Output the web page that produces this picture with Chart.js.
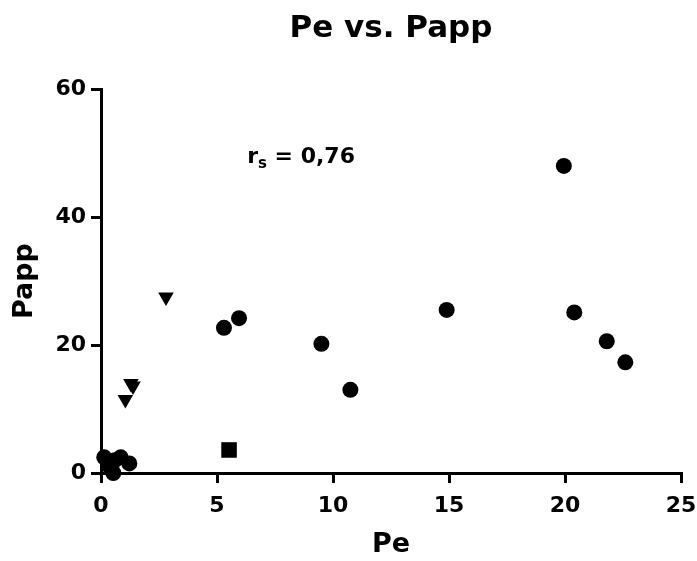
<!DOCTYPE html>
<html>
<head>
<meta charset="utf-8">
<script src="https://cdn.jsdelivr.net/npm/chart.js@4.4.0/dist/chart.umd.min.js"></script>
<style>
    html, body { margin: 0; padding: 0; background: #fff; }
    #wrap { width: 697px; height: 561px; }
</style>
</head>
<body>
<div id="wrap"><canvas id="peChart"></canvas></div>
<script>
// Valores (Pe, Papp)
const circlePe   = [0.14, 0.3, 0.6, 0.53, 0.85, 1.22, 5.3, 5.95, 9.5, 10.75, 14.9, 19.95, 20.4, 21.8, 22.6];
const circlePapp = [2.45, 1.25, 2.0, 0.0, 2.45, 1.5, 22.7, 24.2, 20.2, 13.0, 25.5, 48.0, 25.1, 20.6, 17.3];

const trianglePe   = [2.8, 1.29, 1.38, 1.05];
const trianglePapp = [27.5, 14.0, 13.6, 11.5];

const squarePe   = [5.52];
const squarePapp = [3.6];

const xTicks = [0, 5, 10, 15, 20, 25];
const yTicks = [0, 20, 40, 60];

const annotationText = { main: 'r', sub: 's', rest: ' = 0,76', x: 6.3, y: 48.4 };

function toPoints(xs, ys) {
    return xs.map((x, i) => ({ x: x, y: ys[i] }));
}

const FONT = "'DejaVu Sans', sans-serif";

// Texto de la correlación dibujado sobre el área del gráfico
const rsLabel = {
    id: 'rsLabel',
    afterDraw(chart) {
        const ctx = chart.ctx;
        const px = chart.scales.x.getPixelForValue(annotationText.x);
        const py = chart.scales.y.getPixelForValue(annotationText.y);
        ctx.save();
        ctx.fillStyle = '#000';
        ctx.textAlign = 'left';
        ctx.textBaseline = 'alphabetic';
        ctx.font = 'bold 22px ' + FONT;
        ctx.fillText(annotationText.main, px, py);
        let w = ctx.measureText(annotationText.main).width;
        ctx.font = 'bold 15px ' + FONT;
        ctx.fillText(annotationText.sub, px + w, py + 5);
        w += ctx.measureText(annotationText.sub).width;
        ctx.font = 'bold 22px ' + FONT;
        ctx.fillText(annotationText.rest, px + w, py);
        ctx.restore();
    }
};

const axisStyle = {
    grid: {
        display: true,
        drawOnChartArea: false,
        drawTicks: true,
        tickLength: 10,
        color: '#000',
        lineWidth: 3
    },
    border: { display: true, color: '#000', width: 3 }
};

const config = {
    type: 'scatter',
    data: {
        datasets: [{
            data: toPoints(circlePe, circlePapp),
            pointStyle: 'circle',
            pointRadius: 8,
            pointHoverRadius: 8,
            backgroundColor: '#000',
            borderColor: '#000',
            borderWidth: 0,
            clip: false
        }, {
            data: toPoints(trianglePe, trianglePapp),
            pointStyle: 'triangle',
            rotation: 180,
            pointRadius: 9,
            pointHoverRadius: 9,
            backgroundColor: '#000',
            borderColor: '#000',
            borderWidth: 0,
            clip: false
        }, {
            data: toPoints(squarePe, squarePapp),
            pointStyle: 'rect',
            pointRadius: 11,
            pointHoverRadius: 11,
            backgroundColor: '#000',
            borderColor: '#000',
            borderWidth: 0,
            clip: false
        }]
    },
    options: {
        responsive: true,
        maintainAspectRatio: false,
        animation: false,
        layout: { padding: { left: 0, right: 16, top: 0, bottom: 0 } },
        plugins: {
            legend: { display: false },
            tooltip: { enabled: false },
            title: {
                display: true,
                text: 'Pe vs. Papp',
                color: '#000',
                fullSize: false,
                font: { family: FONT, size: 31, weight: 'bold' },
                padding: { top: 10, bottom: 42 }
            }
        },
        scales: {
            x: Object.assign({
                type: 'linear',
                min: 0,
                max: 25,
                afterFit: function(scale) {
                    scale.height = 88;
                    scale.paddingLeft = 0;
                    scale.paddingRight = 0;
                },
                afterBuildTicks: function(scale) { scale.ticks = xTicks.map(v => ({ value: v })); },
                ticks: {
                    color: '#000',
                    padding: 10,
                    font: { family: FONT, size: 22, weight: 'bold' }
                },
                title: {
                    display: true,
                    text: 'Pe',
                    color: '#000',
                    font: { family: FONT, size: 27, weight: 'bold' },
                    padding: { top: 0, bottom: 0 }
                }
            }, axisStyle),
            y: Object.assign({
                type: 'linear',
                min: 0,
                max: 60,
                afterFit: function(scale) { scale.width = 101; },
                afterBuildTicks: function(scale) { scale.ticks = yTicks.map(v => ({ value: v })); },
                ticks: {
                    color: '#000',
                    padding: 5,
                    font: { family: FONT, size: 22, weight: 'bold' }
                },
                title: {
                    display: true,
                    text: 'Papp',
                    color: '#000',
                    font: { family: FONT, size: 27, weight: 'bold' },
                    padding: { top: 9, bottom: 0 }
                }
            }, axisStyle)
        }
    },
    plugins: [rsLabel]
};

const ctx = document.getElementById('peChart').getContext('2d');
new Chart(ctx, config);
</script>
</body>
</html>
